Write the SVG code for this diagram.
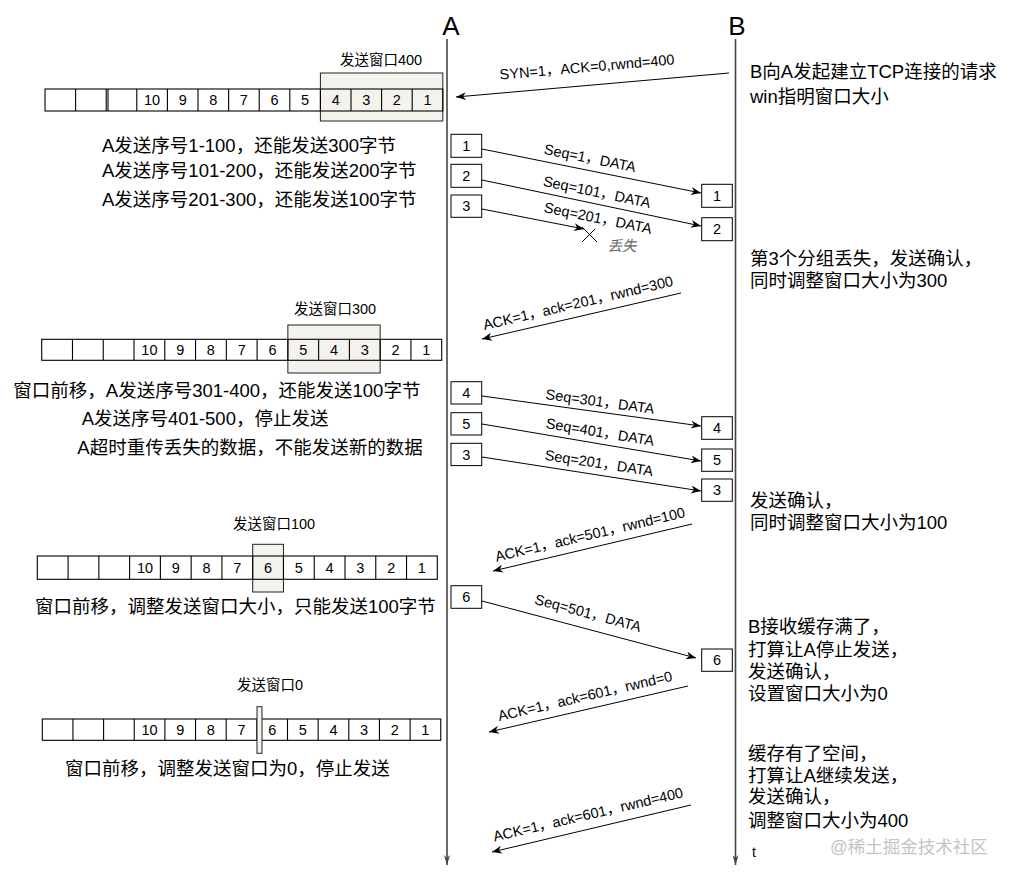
<svg xmlns="http://www.w3.org/2000/svg" width="1014" height="880" viewBox="0 0 1014 880">
<style>
text{font-family:"Liberation Sans","Noto Sans CJK SC",sans-serif;fill:#000}
.t{font-size:18.5px}
.wl{font-size:14.5px;text-anchor:middle}
.n{font-size:14.5px;text-anchor:middle}
.lb{font-size:14.5px;text-anchor:middle}
.cell{fill:none;stroke:#000;stroke-width:1.1}
.win{fill:#f4f2ed;stroke:#222;stroke-width:1}
.box{fill:#fff;stroke:#000;stroke-width:1}
.ar{fill:none;stroke:#000;stroke-width:1;marker-end:url(#ah)}
.life{fill:none;stroke:#444;stroke-width:1.6;marker-end:url(#lh)}
</style>
<defs>
<marker id="ah" markerUnits="userSpaceOnUse" markerWidth="11" markerHeight="9" refX="10" refY="4" orient="auto"><path d="M0,0 L10,4 L0,8 L3,4 z" fill="#000"/></marker>
<marker id="lh" markerUnits="userSpaceOnUse" markerWidth="6" markerHeight="12" refX="3" refY="10" orient="0"><path d="M0,0 L3,10 L6,0 L3,3 z" fill="#444"/></marker>
</defs>
<rect width="1014" height="880" fill="#fff"/>

<g id="lifelines">
<text x="451" y="35" style="font-size:26px;text-anchor:middle">A</text>
<text x="737" y="35" style="font-size:26px;text-anchor:middle">B</text>
<line class="life" x1="447" y1="39" x2="447" y2="865"/>
<line class="life" x1="735.5" y1="39" x2="735.5" y2="865"/>
<text x="752" y="857" style="font-size:14px">t</text>
</g>

<g id="row1">
<text class="wl" x="381" y="65">发送窗口400</text>
<rect class="win" x="320.4" y="73" width="122.4" height="48"/>
<rect class="cell" x="45" y="89" width="397.8" height="22"/>
<path class="cell" d="M75.6 89v22M106.2 89v22M108 89v22M136.8 89v22M167.4 89v22M198 89v22M228.6 89v22M259.2 89v22M289.8 89v22M320.4 89v22M351 89v22M381.6 89v22M412.2 89v22"/>
<g class="nums">
<text class="n" x="152.1" y="105">10</text><text class="n" x="182.7" y="105">9</text><text class="n" x="213.3" y="105">8</text><text class="n" x="243.9" y="105">7</text><text class="n" x="274.5" y="105">6</text><text class="n" x="305.1" y="105">5</text><text class="n" x="335.7" y="105">4</text><text class="n" x="366.3" y="105">3</text><text class="n" x="396.9" y="105">2</text><text class="n" x="427.5" y="105">1</text>
</g>
<text class="t" x="102" y="151.5">A发送序号1-100，还能发送300字节</text>
<text class="t" x="102" y="176.5">A发送序号101-200，还能发送200字节</text>
<text class="t" x="102" y="205.5">A发送序号201-300，还能发送100字节</text>
</g>

<g id="row2">
<text class="wl" x="335" y="313.5">发送窗口300</text>
<rect class="win" x="287.86" y="325" width="92.3" height="48"/>
<rect class="cell" x="41.7" y="339.3" width="400" height="21"/>
<path class="cell" d="M72.47 339.3v21M103.24 339.3v21M134.01 339.3v21M164.78 339.3v21M195.55 339.3v21M226.32 339.3v21M257.09 339.3v21M287.86 339.3v21M318.63 339.3v21M349.4 339.3v21M380.17 339.3v21M410.94 339.3v21"/>
<text class="n" x="149.4" y="355">10</text><text class="n" x="180.2" y="355">9</text><text class="n" x="210.9" y="355">8</text><text class="n" x="241.7" y="355">7</text><text class="n" x="272.5" y="355">6</text><text class="n" x="303.2" y="355">5</text><text class="n" x="334" y="355">4</text><text class="n" x="364.8" y="355">3</text><text class="n" x="395.6" y="355">2</text><text class="n" x="426.3" y="355">1</text>
<text class="t" x="13.3" y="397">窗口前移，A发送序号301-400，还能发送100字节</text>
<text class="t" x="81.7" y="425">A发送序号401-500，停止发送</text>
<text class="t" x="77.3" y="454">A超时重传丢失的数据，不能发送新的数据</text>
</g>

<g id="row3">
<text class="wl" x="274" y="528.5">发送窗口100</text>
<rect class="win" x="252.69" y="544.3" width="30.77" height="47.7"/>
<rect class="cell" x="37.3" y="556" width="400" height="23.3"/>
<path class="cell" d="M68.07 556v23.3M98.84 556v23.3M129.61 556v23.3M160.38 556v23.3M191.15 556v23.3M221.92 556v23.3M252.69 556v23.3M283.46 556v23.3M314.23 556v23.3M345 556v23.3M375.77 556v23.3M406.54 556v23.3"/>
<text class="n" x="145" y="572.5">10</text><text class="n" x="175.8" y="572.5">9</text><text class="n" x="206.5" y="572.5">8</text><text class="n" x="237.3" y="572.5">7</text><text class="n" x="268.1" y="572.5">6</text><text class="n" x="298.8" y="572.5">5</text><text class="n" x="329.6" y="572.5">4</text><text class="n" x="360.4" y="572.5">3</text><text class="n" x="391.2" y="572.5">2</text><text class="n" x="421.9" y="572.5">1</text>
<text class="t" x="35" y="613">窗口前移，调整发送窗口大小，只能发送100字节</text>
</g>

<g id="row4">
<text class="wl" x="270" y="690">发送窗口0</text>
<rect class="cell" x="42.3" y="719" width="398.45" height="21.3"/>
<path class="cell" d="M72.95 719v21.3M103.6 719v21.3M134.25 719v21.3M164.9 719v21.3M195.55 719v21.3M226.2 719v21.3M256.85 719v21.3M287.5 719v21.3M318.15 719v21.3M348.8 719v21.3M379.45 719v21.3M410.1 719v21.3"/>
<rect class="win" x="257" y="706.7" width="5" height="46.6"/>
<text class="n" x="149.6" y="735">10</text><text class="n" x="180.2" y="735">9</text><text class="n" x="210.9" y="735">8</text><text class="n" x="241.5" y="735">7</text><text class="n" x="272.2" y="735">6</text><text class="n" x="302.8" y="735">5</text><text class="n" x="333.5" y="735">4</text><text class="n" x="364.1" y="735">3</text><text class="n" x="394.8" y="735">2</text><text class="n" x="425.4" y="735">1</text>
<text class="t" x="65" y="775">窗口前移，调整发送窗口为0，停止发送</text>
</g>

<g id="connectors">
<line class="ar" x1="729" y1="73" x2="456" y2="97"/>
<line class="ar" x1="482" y1="149" x2="701" y2="193"/>
<line class="ar" x1="482" y1="180" x2="701" y2="226"/>
<line class="ar" x1="482" y1="209" x2="584" y2="229"/>
<line class="ar" x1="681" y1="293" x2="482" y2="339"/>
<line class="ar" x1="482" y1="396" x2="701" y2="426"/>
<line class="ar" x1="482" y1="424" x2="701" y2="461"/>
<line class="ar" x1="482" y1="457" x2="701" y2="491"/>
<line class="ar" x1="692" y1="524" x2="493" y2="571"/>
<line class="ar" x1="482" y1="601" x2="696" y2="658"/>
<line class="ar" x1="688" y1="686" x2="489" y2="732"/>
<line class="ar" x1="691" y1="805" x2="492" y2="852"/>
<path d="M582 227L597 242M582 242L595 229" stroke="#000" stroke-width="1" fill="none"/>
</g>

<g id="labels">
<text class="lb" transform="translate(587,67) rotate(-5)" y="5">SYN=1，ACK=0,rwnd=400</text>
<text class="lb" transform="translate(590,158) rotate(11.3)" y="5">Seq=1，DATA</text>
<text class="lb" transform="translate(597,192) rotate(11.8)" y="5">Seq=101，DATA</text>
<text class="lb" transform="translate(598,218) rotate(11.5)" y="5">Seq=201，DATA</text>
<text x="622" y="251" style="font-size:14.5px;text-anchor:middle;fill:#666;font-style:italic">丢失</text>
<text class="lb" transform="translate(578,303) rotate(-13.2)" y="5">ACK=1，ack=201，rwnd=300</text>
<text class="lb" transform="translate(600,401.5) rotate(7.8)" y="5">Seq=301，DATA</text>
<text class="lb" transform="translate(600,432) rotate(9.4)" y="5">Seq=401，DATA</text>
<text class="lb" transform="translate(599,463) rotate(8.6)" y="5">Seq=201，DATA</text>
<text class="lb" transform="translate(590,534.5) rotate(-13.3)" y="5">ACK=1，ack=501，rwnd=100</text>
<text class="lb" transform="translate(588,613) rotate(15)" y="5">Seq=501，DATA</text>
<text class="lb" transform="translate(585,696) rotate(-13.1)" y="5">ACK=1，ack=601，rwnd=0</text>
<text class="lb" transform="translate(588,814.5) rotate(-13.2)" y="5">ACK=1，ack=601，rwnd=400</text>
</g>

<g id="boxesA">
<rect class="box" x="451" y="134.3" width="30.7" height="23"/><text class="n" x="466.3" y="151">1</text>
<rect class="box" x="451" y="164.3" width="30.7" height="23"/><text class="n" x="466.3" y="181">2</text>
<rect class="box" x="451" y="195" width="30.7" height="22.3"/><text class="n" x="466.3" y="211">3</text>
<rect class="box" x="451" y="381.7" width="30.7" height="22.3"/><text class="n" x="466.3" y="398">4</text>
<rect class="box" x="451" y="412.7" width="30.7" height="22.3"/><text class="n" x="466.3" y="429">5</text>
<rect class="box" x="451" y="443.3" width="30.7" height="22.3"/><text class="n" x="466.3" y="459.5">3</text>
<rect class="box" x="451" y="585.7" width="30.7" height="22.6"/><text class="n" x="466.3" y="602">6</text>
</g>
<g id="boxesB">
<rect class="box" x="701.7" y="184.3" width="30.6" height="23"/><text class="n" x="717" y="201">1</text>
<rect class="box" x="701.7" y="217.7" width="30.6" height="23"/><text class="n" x="717" y="234">2</text>
<rect class="box" x="701.7" y="416.7" width="30.6" height="22.6"/><text class="n" x="717" y="433">4</text>
<rect class="box" x="701.7" y="449" width="30.6" height="22.3"/><text class="n" x="717" y="465">5</text>
<rect class="box" x="701.7" y="479" width="30.6" height="22.3"/><text class="n" x="717" y="495">3</text>
<rect class="box" x="701.7" y="649" width="30.6" height="22.3"/><text class="n" x="717" y="665">6</text>
</g>

<g id="notesB">
<text class="t" x="750" y="78">B向A发起建立TCP连接的请求</text>
<text class="t" x="750" y="103">win指明窗口大小</text>
<text class="t" x="750" y="265">第3个分组丢失，发送确认，</text>
<text class="t" x="750" y="287">同时调整窗口大小为300</text>
<text class="t" x="750" y="506.5">发送确认，</text>
<text class="t" x="750" y="529">同时调整窗口大小为100</text>
<text class="t" x="748" y="633">B接收缓存满了，</text>
<text class="t" x="748" y="656">打算让A停止发送，</text>
<text class="t" x="748" y="678">发送确认，</text>
<text class="t" x="748" y="700">设置窗口大小为0</text>
<text class="t" x="748" y="760">缓存有了空间，</text>
<text class="t" x="748" y="781.5">打算让A继续发送，</text>
<text class="t" x="748" y="803">发送确认，</text>
<text class="t" x="748" y="826.5">调整窗口大小为400</text>
<text x="830" y="853" style="font-size:17.5px;fill:#c4c4c4">@稀土掘金技术社区</text>
</g>
</svg>
